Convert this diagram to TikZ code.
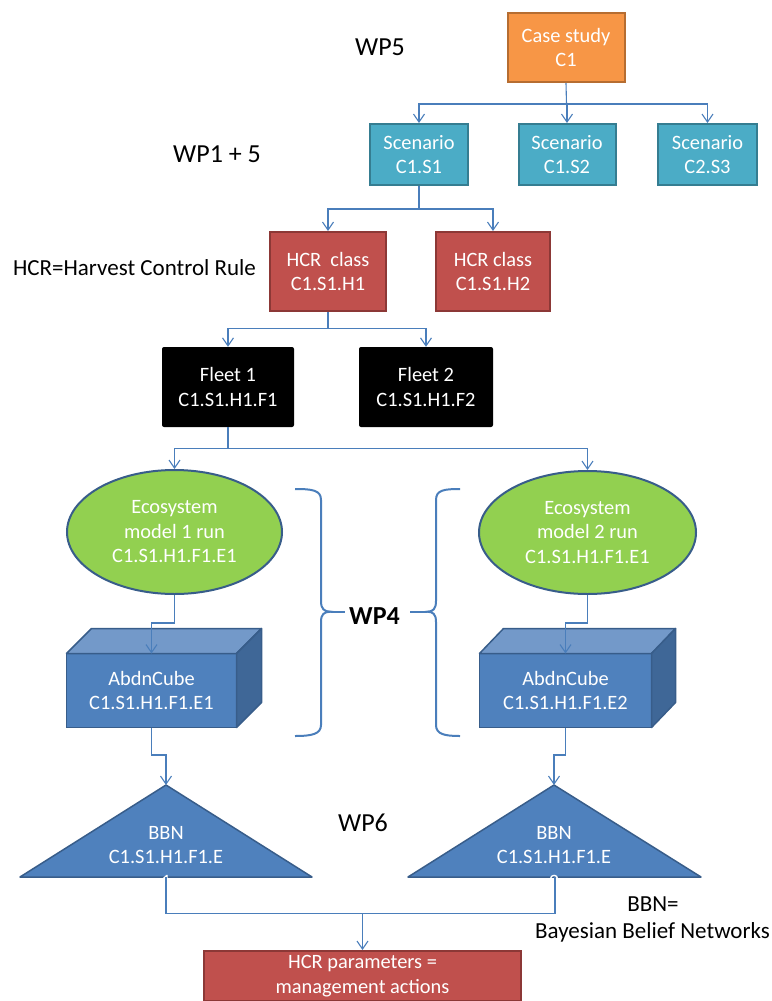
\documentclass[tikz,border=0pt]{standalone}
\usepackage{fontspec}
\setmainfont{Carlito}
\usetikzlibrary{arrows.meta,calc,shapes.geometric}
\definecolor{orangeF}{HTML}{F79646}
\definecolor{orangeD}{HTML}{B66D31}
\definecolor{tealF}{HTML}{4BACC6}
\definecolor{tealD}{HTML}{357D91}
\definecolor{redF}{HTML}{C0504D}
\definecolor{redD}{HTML}{8C3836}
\definecolor{greenF}{HTML}{92D050}
\definecolor{blueF}{HTML}{4F81BD}
\definecolor{blueD}{HTML}{385D8A}
\definecolor{blueTop}{HTML}{7399C9}
\definecolor{blueSide}{HTML}{3F6797}
\definecolor{connC}{HTML}{4A7EBB}
\tikzset{
  boxtext/.style={text=white, font=\fontsize{20.4}{24.5}\selectfont, align=center, inner sep=0pt},
  rbox/.style={boxtext, draw, rectangle, line width=2pt},
  orangebox/.style={rbox, fill=orangeF, draw=orangeD},
  tealbox/.style={rbox, fill=tealF, draw=tealD},
  redbox/.style={rbox, fill=redF, draw=redD},
  fleetbox/.style={boxtext, rectangle, fill=black, rounded corners=2pt},
  ecobox/.style={boxtext, ellipse, draw=blueD, fill=greenF, line width=2pt},
  cubefront/.style={boxtext, rectangle, draw=blueD, fill=blueF, line width=1.5pt, outer sep=0pt},
  cubetop/.style={draw=blueD, fill=blueTop, line width=1.5pt, line join=round},
  cubeside/.style={draw=blueD, fill=blueSide, line width=1.5pt, line join=round},
  bbnshape/.style={draw=blueD, fill=blueF, line width=1.5pt, line join=round},
  conn/.style={draw=connC, line width=1.1pt},
  arr/.style={conn, -{Straight Barb[length=8pt,width=11pt]}},
  bracestyle/.style={draw=connC, line width=2pt},
  sidelabel/.style={font=\fontsize{23}{27}\selectfont, inner sep=0pt, anchor=base},
  wplabel/.style={font=\fontsize{26}{30}\selectfont, inner sep=0pt, anchor=base},
}
\begin{document}
\begin{tikzpicture}[x=1pt,y=-1pt]
\useasboundingbox (0,0) rectangle (771,1001);

% top level
\node[orangebox, minimum width=117pt, minimum height=69pt] (case) at (566,47.5) {Case study\\C1};
\node[tealbox, minimum width=98pt, minimum height=61pt] (s1) at (419,154.5) {Scenario\\C1.S1};
\node[tealbox, minimum width=97pt, minimum height=61pt] (s2) at (567,154.5) {Scenario\\C1.S2};
\node[tealbox, minimum width=99pt, minimum height=61pt] (s3) at (707.5,154.5) {Scenario\\C2.S3};

\node[redbox, minimum width=116pt, minimum height=79pt] (h1) at (328,271.5) {HCR~ class\\C1.S1.H1};
\node[redbox, minimum width=114pt, minimum height=79pt] (h2) at (493,271.5) {HCR class\\C1.S1.H2};

\node[fleetbox, minimum width=132pt, minimum height=80pt] (f1) at (228,387) {Fleet 1\\C1.S1.H1.F1};
\node[fleetbox, minimum width=134pt, minimum height=80pt] (f2) at (426,387) {Fleet 2\\C1.S1.H1.F2};

\node[ecobox, minimum width=215pt, minimum height=124pt] (e1) at (174.5,532) {Ecosystem\\model 1 run\\C1.S1.H1.F1.E1};
\node[ecobox, minimum width=217pt, minimum height=123pt] (e2) at (587.5,532.5) {Ecosystem\\model 2 run\\C1.S1.H1.F1.E1};

% cubes
\node[cubefront, minimum width=170pt, minimum height=74pt] (c1) at (151.5,690.5) {AbdnCube\\C1.S1.H1.F1.E1};
\path[cubetop] (c1.north west) -- ++(25,-25) -- ($(c1.north east)+(25,-25)$) -- (c1.north east) -- cycle;
\path[cubeside] (c1.north east) -- ++(25,-25) -- ($(c1.south east)+(25,-25)$) -- (c1.south east) -- cycle;
\node[cubefront, minimum width=172pt, minimum height=74pt] (c2) at (565.5,690.5) {AbdnCube\\C1.S1.H1.F1.E2};
\path[cubetop] (c2.north west) -- ++(24,-25) -- ($(c2.north east)+(24,-25)$) -- (c2.north east) -- cycle;
\path[cubeside] (c2.north east) -- ++(24,-25) -- ($(c2.south east)+(24,-25)$) -- (c2.south east) -- cycle;

% triangles
\coordinate (t1a) at (166,785);
\coordinate (t1b) at (166,877);
\path[bbnshape] (t1a) -- (20,877) -- (312,877) -- cycle;
\node[boxtext] (t1) at (166,857) {BBN\\C1.S1.H1.F1.E\\1};
\coordinate (t2a) at (554,785);
\coordinate (t2b) at (555,877);
\path[bbnshape] (t2a) -- (408,877) -- (701,877) -- cycle;
\node[boxtext] (t2) at (554,857) {BBN\\C1.S1.H1.F1.E\\2};

% bottom box
\node[redbox, minimum width=317pt, minimum height=50pt] (hp) at (362.5,976) {HCR parameters =\\management actions};

% connectors
\coordinate (jc) at (566.5,104);
\draw[conn] (case.south) -- (jc);
\draw[arr] (jc) -| (s1.north);
\draw[arr] (jc) -| (s2.north);
\draw[arr] (jc) -| (s3.north);

\coordinate (js) at (419,209);
\draw[conn] (s1.south) -- (js);
\draw[arr] (js) -| (h1.north);
\draw[arr] (js) -| (h2.north);

\coordinate (jh) at (328,328.3);
\draw[conn] (h1.south) -- (jh);
\draw[arr] (jh) -| (f1.north);
\draw[arr] (jh) -| (f2.north);

\coordinate (jf) at (228,448.3);
\draw[conn] (f1.south) -- (jf);
\draw[arr] (jf) -| (e1.north);
\draw[arr] (jf) -| (e2.north);

\draw[arr] (e1.south) -- ++(0,28) -| (c1.north);
\draw[arr] (e2.south) -- ++(0,28) -| (c2.north);

\draw[arr] (c1.south) -- ++(0,27.5) -| (t1a);
\draw[arr] (c2.south) -- ++(0,27.5) -| (t2a);

\coordinate (jb) at (362.5,913.3);
\draw[conn] (t1b) |- (jb);
\draw[conn] (t2b) |- (jb);
\draw[arr] (jb) -- (hp.north);

% braces
\draw[bracestyle] (295,489) .. controls (312,489) and (321,490) .. (321,500) -- (321,601)
  .. controls (321,609) and (324,611.7) .. (331,611.7)
  .. controls (324,611.7) and (321,614) .. (321,622) -- (321,725)
  .. controls (321,734) and (312,736) .. (295,736);
\draw[bracestyle] (331,611.7) -- (345,611.7);
\draw[bracestyle] (460,489) .. controls (444,489) and (436,490) .. (436,500) -- (436,601)
  .. controls (436,609) and (433,611.7) .. (427,611.7)
  .. controls (433,611.7) and (436,614) .. (436,622) -- (436,725)
  .. controls (436,734) and (444,736) .. (460,736);
\draw[bracestyle] (427,611.7) -- (410,611.7);

% labels
\node[wplabel] (wp5) at (380,55) {WP5};
\node[wplabel] (wp15) at (217,162.7) {WP1 + 5};
\node[sidelabel] (hcrdef) at (134.5,275) {HCR=Harvest Control Rule};
\node[wplabel, font=\fontsize{26}{30}\selectfont\bfseries] (wp4) at (374.5,624) {WP4};
\node[wplabel] (wp6) at (363,831.7) {WP6};
\node[sidelabel] (bbndef) at (653,911.7) {BBN=};
\node[sidelabel] (bbnfull) at (652.5,938.3) {Bayesian Belief Networks};
\end{tikzpicture}
\end{document}
